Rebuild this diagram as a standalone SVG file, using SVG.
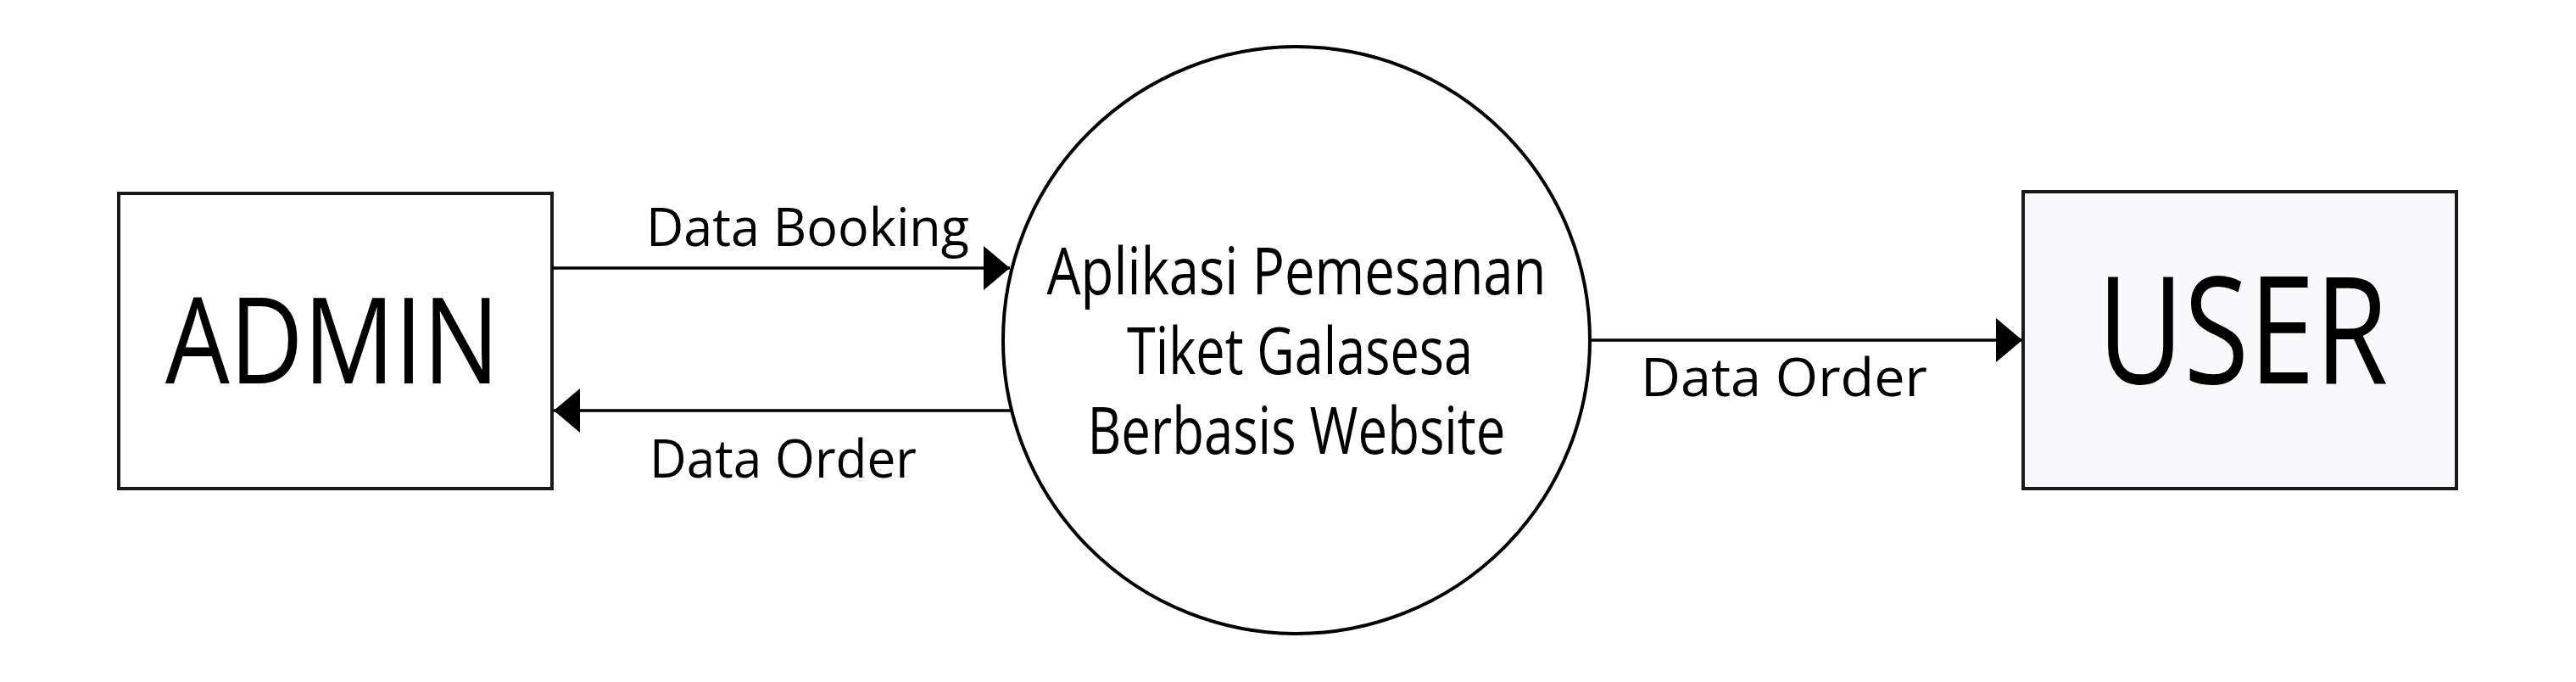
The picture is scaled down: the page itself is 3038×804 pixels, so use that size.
<svg xmlns="http://www.w3.org/2000/svg" width="3038" height="804" viewBox="0 0 3038 804">
<style>
.box{stroke:#1a1a1a;stroke-width:4}
.ln{stroke:#000;stroke-width:3.5;fill:none}
.t{font-family:"Open Sans","Noto Sans",sans-serif;fill:#000;font-weight:500}
</style>
<defs>
<marker id="ah" markerUnits="userSpaceOnUse" markerWidth="32" markerHeight="52" refX="31" refY="26" orient="auto">
<path d="M0,0 L31,26 L0,52 Z" fill="#000"/>
</marker>
</defs>
<rect width="3038" height="804" fill="#fff"/>
<g id="admin">
<rect class="box" x="140" y="228" width="511" height="348" fill="#fff"/>
<text class="t" x="392" y="452" font-size="141" text-anchor="middle" textLength="394" lengthAdjust="spacingAndGlyphs">ADMIN</text>
</g>
<g id="process">
<circle cx="1529" cy="401" r="346" fill="#fff" stroke="#000" stroke-width="4"/>
<text class="t" x="1529" y="347" font-size="76" text-anchor="middle" textLength="589" lengthAdjust="spacingAndGlyphs">Aplikasi Pemesanan</text>
<text class="t" x="1533" y="441" font-size="76" text-anchor="middle" textLength="408" lengthAdjust="spacingAndGlyphs">Tiket Galasesa</text>
<text class="t" x="1529" y="535" font-size="76" text-anchor="middle" textLength="493" lengthAdjust="spacingAndGlyphs">Berbasis Website</text>
</g>
<g id="user">
<rect class="box" x="2386" y="226" width="511" height="350" fill="#f9f9fb"/>
<text class="t" x="2645" y="452" font-size="176" text-anchor="middle" textLength="343" lengthAdjust="spacingAndGlyphs">USER</text>
</g>
<g id="connectors">
<line class="ln" x1="651" y1="316" x2="1191" y2="316" marker-end="url(#ah)"/>
<line class="ln" x1="1193" y1="484" x2="653" y2="484" marker-end="url(#ah)"/>
<line class="ln" x1="1875" y1="401" x2="2385" y2="401" marker-end="url(#ah)"/>
<text class="t" x="762" y="290" font-size="62" textLength="381" lengthAdjust="spacingAndGlyphs">Data Booking</text>
<text class="t" x="766" y="563" font-size="62" textLength="315" lengthAdjust="spacingAndGlyphs">Data Order</text>
<text class="t" x="1935" y="467" font-size="62" textLength="338" lengthAdjust="spacingAndGlyphs">Data Order</text>
</g>
</svg>
